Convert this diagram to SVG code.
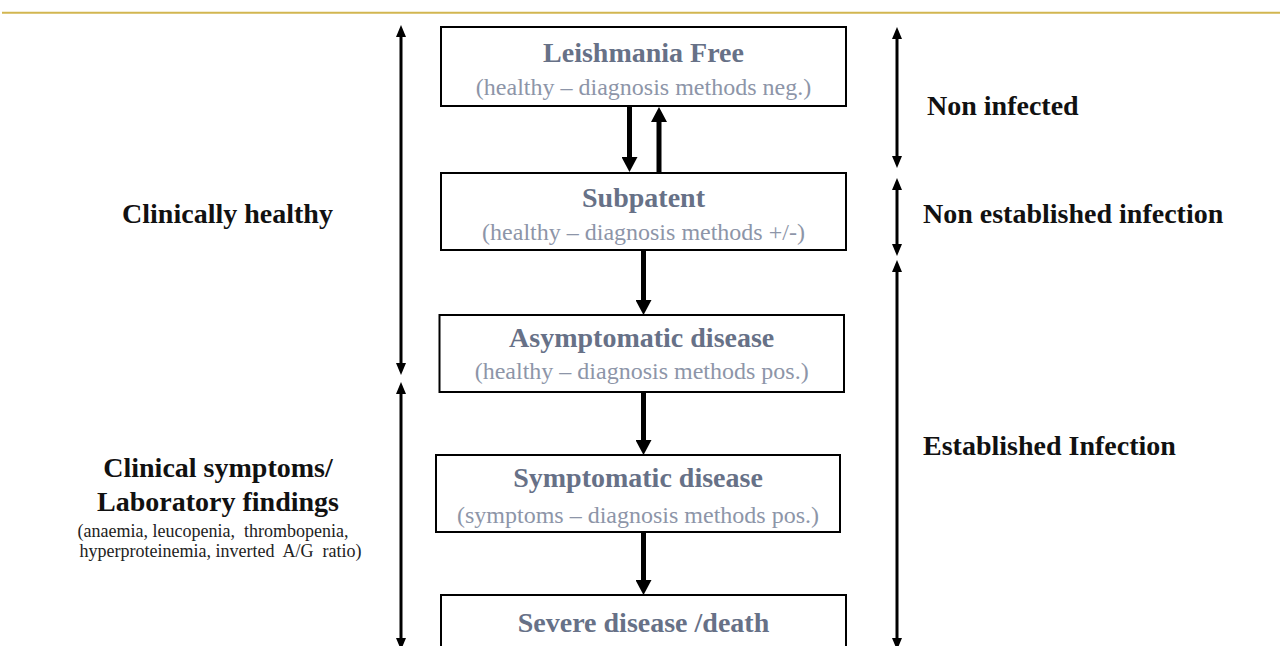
<svg xmlns="http://www.w3.org/2000/svg" width="1280" height="646" viewBox="0 0 1280 646">
<style>
.box{fill:#fff;stroke:#000;stroke-width:2}
.title{font-family:"Liberation Serif",serif;font-weight:bold;font-size:28px;fill:#677187;text-anchor:middle}
.sub{font-family:"Liberation Serif",serif;font-size:24px;fill:#8D95A8;text-anchor:middle}
.lbl{font-family:"Liberation Serif",serif;font-weight:bold;font-size:28px;fill:#111}
.small{font-family:"Liberation Serif",serif;font-size:18px;fill:#222;text-anchor:middle;white-space:pre}
.thick{stroke:#000;stroke-width:5;fill:none;marker-end:url(#hd)}
.thin{stroke:#000;stroke-width:3;fill:none;marker-start:url(#ht);marker-end:url(#ht)}
</style>
<defs>
<marker id="hd" viewBox="0 0 15 16" refX="0" refY="8" markerWidth="15" markerHeight="16" markerUnits="userSpaceOnUse" orient="auto-start-reverse"><path d="M0,0 L15,8 L0,16 z" fill="#000"/></marker>
<marker id="ht" viewBox="0 0 12 10" refX="0" refY="5" markerWidth="12" markerHeight="10" markerUnits="userSpaceOnUse" orient="auto-start-reverse"><path d="M0,0 L12,5 L0,10 z" fill="#000"/></marker>
</defs>
<rect width="1280" height="646" fill="#fff"/>
<line x1="2" y1="12.8" x2="1280" y2="12.8" stroke="#D2B650" stroke-width="2"/>

<g id="connectors">
<line class="thick" x1="629.5" y1="107" x2="629.5" y2="157"/>
<line class="thick" x1="659" y1="173" x2="659" y2="122"/>
<line class="thick" x1="643.5" y1="250" x2="643.5" y2="300"/>
<line class="thick" x1="643.5" y1="392" x2="643.5" y2="440"/>
<line class="thick" x1="643.5" y1="532" x2="643.5" y2="580"/>
<line class="thin" x1="401" y1="37" x2="401" y2="363"/>
<line class="thin" x1="401" y1="394" x2="401" y2="638"/>
<line class="thin" x1="897" y1="39" x2="897" y2="156"/>
<line class="thin" x1="897" y1="190" x2="897" y2="244"/>
<line class="thin" x1="897" y1="272" x2="897" y2="638"/>
</g>

<g id="leishmania-free">
<rect class="box" x="441" y="27" width="405" height="79"/>
<text class="title" x="643.5" y="62">Leishmania Free</text>
<text class="sub" x="643.5" y="95">(healthy – diagnosis methods neg.)</text>
</g>
<g id="subpatent">
<rect class="box" x="441" y="173" width="405" height="77"/>
<text class="title" x="643.5" y="207">Subpatent</text>
<text class="sub" x="643.5" y="240">(healthy – diagnosis methods +/-)</text>
</g>
<g id="asymptomatic">
<rect class="box" x="439.5" y="315" width="404.5" height="77"/>
<text class="title" x="641.7" y="347">Asymptomatic disease</text>
<text class="sub" x="641.7" y="379">(healthy – diagnosis methods pos.)</text>
</g>
<g id="symptomatic">
<rect class="box" x="436" y="455" width="404" height="77"/>
<text class="title" x="638" y="487">Symptomatic disease</text>
<text class="sub" x="638" y="523">(symptoms – diagnosis methods pos.)</text>
</g>
<g id="severe">
<rect class="box" x="441" y="595" width="405" height="80"/>
<text class="title" x="643.5" y="632">Severe disease /death</text>
</g>

<g id="label-clinically-healthy">
<text class="lbl" x="227.5" y="223" text-anchor="middle" font-size="27">Clinically healthy</text>
</g>
<g id="label-clinical-symptoms">
<text class="lbl" x="218" y="477" text-anchor="middle">Clinical symptoms/</text>
<text class="lbl" x="218" y="511" text-anchor="middle">Laboratory findings</text>
<text class="small" x="213" y="537">(anaemia, leucopenia,  thrombopenia,</text>
<text class="small" x="220.5" y="557">hyperproteinemia, inverted  A/G  ratio)</text>
</g>
<g id="label-non-infected">
<text class="lbl" x="927" y="115">Non infected</text>
</g>
<g id="label-non-established">
<text class="lbl" x="923" y="223">Non established infection</text>
</g>
<g id="label-established">
<text class="lbl" x="923" y="455">Established Infection</text>
</g>
</svg>
